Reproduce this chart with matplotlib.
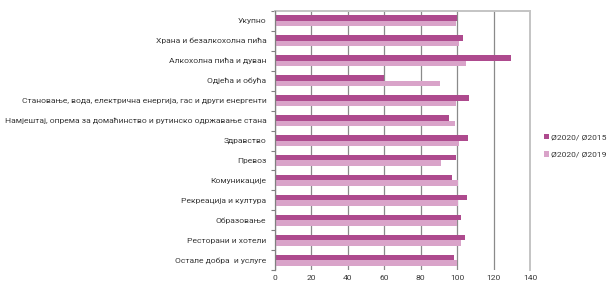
import numpy as np
import matplotlib.pyplot as plt

categories = [
    "Укупно",
    "Храна и безалкохолна пића",
    "Алкохолна пића и дуван",
    "Одјећа и обућа",
    "Становање, вода, електрична енергија, гас и други енергенти",
    "Намјештај, опрема за домаћинство и рутинско одржавање стана",
    "Здравство",
    "Превоз",
    "Комуникације",
    "Рекреација и култура",
    "Образовање",
    "Ресторани и хотели",
    "Остале добра  и услуге",
]
vs_2015 = [100.0, 102.9, 129.6, 59.7, 106.3, 95.6, 106.0, 99.1, 97.1, 105.2, 102.0, 104.5, 98.5]
vs_2019 = [99.1, 100.9, 104.9, 90.3, 99.4, 98.9, 101.0, 91.2, 100.3, 100.3, 100.1, 102.3, 100.0]
series_labels = ["Ø2020/ Ø2015", "Ø2020/ Ø2019"]
x_ticks = [0, 20, 40, 60, 80, 100, 120, 140]

plt.rcParams["font.family"] = ["Roboto", "DejaVu Sans"]
text_col = "#3a3a3a"
fs = 6.1

fig = plt.figure(figsize=(6.08, 2.85), dpi=100)
ax = fig.add_axes([0.452, 0.051, 0.42, 0.912])

y = np.arange(len(categories))
h = 0.28
ax.barh(y - h / 2, vs_2015, height=h, color="#ae4a8e", label=series_labels[0], zorder=3)
ax.barh(y + h / 2, vs_2019, height=h, color="#d9a3c9", label=series_labels[1], zorder=3)

ax.set_xlim(0, 140)
ax.set_ylim(len(categories) - 0.5, -0.5)
ax.set_xticks(x_ticks)
ax.set_xticklabels([str(t) for t in x_ticks], fontsize=fs, color=text_col)
ax.set_yticks(y)
ax.set_yticklabels(categories, fontsize=fs, color=text_col)
ax.set_yticks(np.arange(len(categories) + 1) - 0.5, minor=True)
ax.tick_params(axis="y", which="major", length=0, pad=6)
ax.tick_params(axis="y", which="minor", length=3, color="#808080", width=0.8)
ax.tick_params(axis="x", length=0, pad=3)

ax.grid(axis="x", color="#8a8a8a", linewidth=0.9, zorder=0)
ax.spines["bottom"].set_visible(False)
ax.spines["left"].set_color("#808080")
ax.spines["left"].set_linewidth(0.9)
ax.spines["left"].set_zorder(4)
for s in ["top", "right"]:
    ax.spines[s].set_color("#c4c4c4")
    ax.spines[s].set_linewidth(1.4)

fig.legend(loc="upper left", bbox_to_anchor=(0.894, 0.53), frameon=False,
           fontsize=fs, handlelength=0.6, handleheight=0.6, handletextpad=0.3,
           labelspacing=1.25, labelcolor=text_col, borderaxespad=0, borderpad=0)

fig.savefig("out.png", dpi=100)
